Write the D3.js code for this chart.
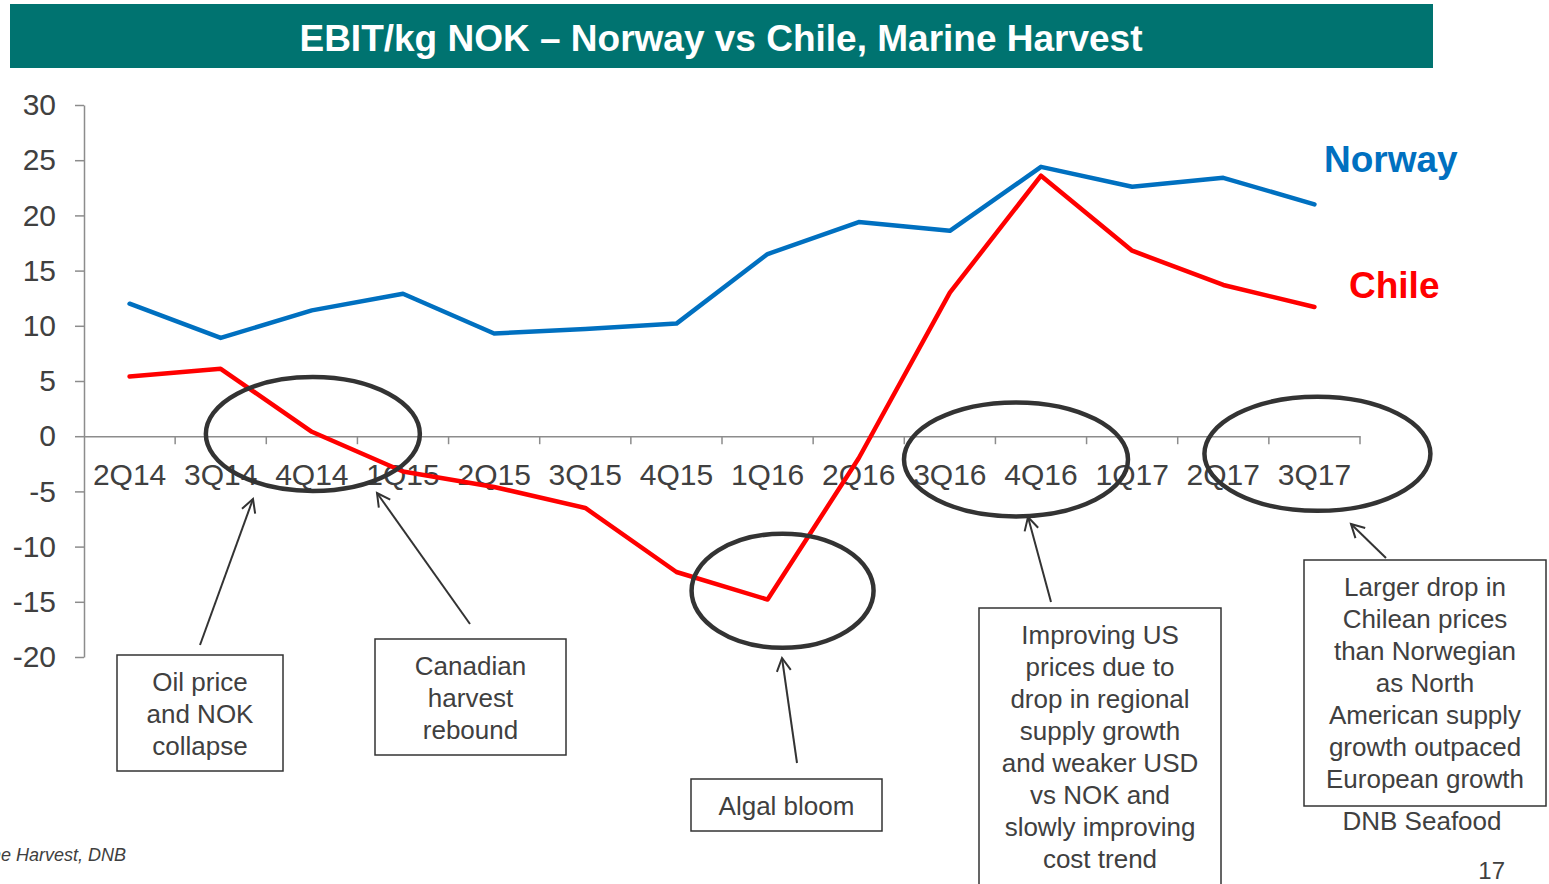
<!DOCTYPE html>
<html>
<head>
<meta charset="utf-8">
<script src="https://cdn.jsdelivr.net/npm/d3@7"></script>
<style>
  html, body { margin: 0; padding: 0; background: #fff; }
  svg { display: block; font-family: "Liberation Sans", Arial, sans-serif; }
</style>
</head>
<body>
<svg id="chart" width="1549" height="884"></svg>
<script>
// ---- data ----
const categories = ["2Q14","3Q14","4Q14","1Q15","2Q15","3Q15","4Q15","1Q16","2Q16","3Q16","4Q16","1Q17","2Q17","3Q17"];
const norway = [12.0, 8.9, 11.4, 12.9, 9.3, 9.7, 10.2, 16.5, 19.4, 18.6, 24.4, 22.6, 23.4, 21.0];
const chile  = [5.4, 6.1, 0.4, -3.2, -4.6, -6.5, -12.3, -14.8, -2.0, 13.0, 23.6, 16.8, 13.7, 11.7];
const yTicks = [30, 25, 20, 15, 10, 5, 0, -5, -10, -15, -20];
const title = "EBIT/kg NOK \u2013 Norway vs Chile, Marine Harvest";
const seriesNames = ["Norway", "Chile"];

const noteOil = ["Oil price", "and NOK", "collapse"];
const noteCanada = ["Canadian", "harvest", "rebound"];
const noteAlgal = ["Algal bloom"];
const noteUS = ["Improving US", "prices due to", "drop in regional", "supply growth", "and weaker USD", "vs NOK and", "slowly improving", "cost trend"];
const noteChile = ["Larger drop in", "Chilean prices", "than Norwegian", "as North", "American supply", "growth outpaced", "European growth"];

// ---- drawing ----
const svg = d3.select("#chart");
const textColor = "#404040";
const axisColor = "#8c8c8c";

// title bar
svg.append("rect").attr("x", 10).attr("y", 4).attr("width", 1423).attr("height", 64).attr("fill", "#007370");
svg.append("text").attr("x", 721).attr("y", 51).attr("text-anchor", "middle")
  .attr("fill", "#ffffff").attr("font-weight", "bold").attr("font-size", 37).text(title);

const x = d3.scaleBand().domain(categories).range([84, 1360]);
const y = d3.scaleLinear().domain([-20, 30]).range([657, 105]);
const cx = c => x(c) + x.bandwidth() / 2;

// y axis
const yAxis = svg.append("g").attr("transform", "translate(84,0)")
  .call(d3.axisLeft(y).tickValues(yTicks).tickSize(9).tickSizeOuter(0).tickPadding(19).tickFormat(d => String(d)));
yAxis.select(".domain").attr("stroke", axisColor).attr("stroke-width", 1.5);
yAxis.selectAll(".tick line").attr("stroke", axisColor).attr("stroke-width", 1.5);
yAxis.selectAll(".tick text").attr("fill", textColor).attr("font-size", 30)
  .attr("font-family", "Liberation Sans, Arial, sans-serif");

// x axis at zero
const xAxis = svg.append("g").attr("transform", `translate(0,${y(0)})`)
  .call(d3.axisBottom(x).tickSize(0).tickSizeOuter(0).tickPadding(28));
xAxis.select(".domain").attr("stroke", axisColor).attr("stroke-width", 1.5);
xAxis.selectAll(".tick text").attr("fill", textColor).attr("font-size", 30)
  .attr("font-family", "Liberation Sans, Arial, sans-serif");
xAxis.selectAll(".boundary").data(categories).enter().append("line")
  .attr("class", "boundary")
  .attr("x1", d => x(d) + x.bandwidth()).attr("x2", d => x(d) + x.bandwidth())
  .attr("y1", 0).attr("y2", 8).attr("stroke", axisColor).attr("stroke-width", 1.5);

// lines
const line = d3.line().x((d, i) => cx(categories[i])).y(d => y(d));
const series = [
  { name: seriesNames[0], values: norway, color: "#0070C0" },
  { name: seriesNames[1], values: chile, color: "#FF0000" }
];
svg.selectAll(".series").data(series).enter().append("path")
  .attr("class", "series")
  .attr("d", d => line(d.values))
  .attr("fill", "none").attr("stroke", d => d.color).attr("stroke-width", 4.5)
  .attr("stroke-linejoin", "round").attr("stroke-linecap", "round");

// series labels
svg.append("text").attr("x", 1324).attr("y", 172).attr("fill", "#0070C0")
  .attr("font-weight", "bold").attr("font-size", 37).text(seriesNames[0]);
svg.append("text").attr("x", 1349).attr("y", 298).attr("fill", "#FF0000")
  .attr("font-weight", "bold").attr("font-size", 37).text(seriesNames[1]);

// ellipses (anchored to scale positions)
const ellipses = [
  { cat: "4Q14", dx: 1, v: 0.2, rx: 107, ry: 57 },
  { cat: "1Q16", dx: 15, v: -14, rx: 91, ry: 57 },
  { cat: "4Q16", dx: -25, v: -2.1, rx: 112, ry: 57 },
  { cat: "3Q17", dx: 3, v: -1.6, rx: 113, ry: 57 }
];
svg.selectAll(".ring").data(ellipses).enter().append("ellipse")
  .attr("class", "ring")
  .attr("cx", d => cx(d.cat) + d.dx).attr("cy", d => y(d.v))
  .attr("rx", d => d.rx).attr("ry", d => d.ry)
  .attr("fill", "none").attr("stroke", "#333333").attr("stroke-width", 4.5);

// arrow marker
svg.append("defs").append("marker")
  .attr("id", "arr").attr("markerUnits", "userSpaceOnUse")
  .attr("markerWidth", 30).attr("markerHeight", 30)
  .attr("refX", 0).attr("refY", 0).attr("viewBox", "-15 -15 30 30")
  .attr("orient", "auto")
  .append("path").attr("d", "M-13,-7 L0,0 L-13,7").attr("fill", "none")
  .attr("stroke", "#333333").attr("stroke-width", 2);

const arrows = [
  [200, 645, 253, 499],
  [470, 624, 377, 493],
  [797, 763, 782, 658],
  [1051, 602, 1028, 517],
  [1386, 558, 1351, 524]
];
svg.selectAll(".arrow").data(arrows).enter().append("line")
  .attr("class", "arrow")
  .attr("x1", d => d[0]).attr("y1", d => d[1]).attr("x2", d => d[2]).attr("y2", d => d[3])
  .attr("stroke", "#333333").attr("stroke-width", 2).attr("marker-end", "url(#arr)");

// note boxes
const boxes = [
  { lines: noteOil, x: 117, y: 655, w: 166, h: 116, firstBase: 691 },
  { lines: noteCanada, x: 375, y: 639, w: 191, h: 116, firstBase: 675 },
  { lines: noteAlgal, x: 691, y: 779, w: 191, h: 52, firstBase: 815 },
  { lines: noteUS, x: 979, y: 608, w: 242, h: 290, firstBase: 644 },
  { lines: noteChile, x: 1304, y: 560, w: 242, h: 246, firstBase: 596 }
];
const bg = svg.selectAll(".note").data(boxes).enter().append("g").attr("class", "note");
bg.append("rect")
  .attr("x", d => d.x).attr("y", d => d.y).attr("width", d => d.w).attr("height", d => d.h)
  .attr("fill", "none").attr("stroke", "#333333").attr("stroke-width", 1.5);
bg.each(function(d) {
  const t = d3.select(this).append("text").attr("text-anchor", "middle")
    .attr("fill", textColor).attr("font-size", 26);
  d.lines.forEach((ln, i) => {
    t.append("tspan").attr("x", d.x + d.w / 2).attr("y", d.firstBase + i * 32).text(ln);
  });
});

// footer texts
svg.append("text").attr("x", 1422).attr("y", 830).attr("text-anchor", "middle")
  .attr("fill", textColor).attr("font-size", 26).text("DNB Seafood");
svg.append("text").attr("x", 1505).attr("y", 879).attr("text-anchor", "end")
  .attr("fill", textColor).attr("font-size", 24).text("17");
svg.append("text").attr("x", 126).attr("y", 861).attr("text-anchor", "end")
  .attr("fill", textColor).attr("font-size", 18).attr("font-style", "italic")
  .text("Source: Marine Harvest, DNB");
</script>
</body>
</html>
